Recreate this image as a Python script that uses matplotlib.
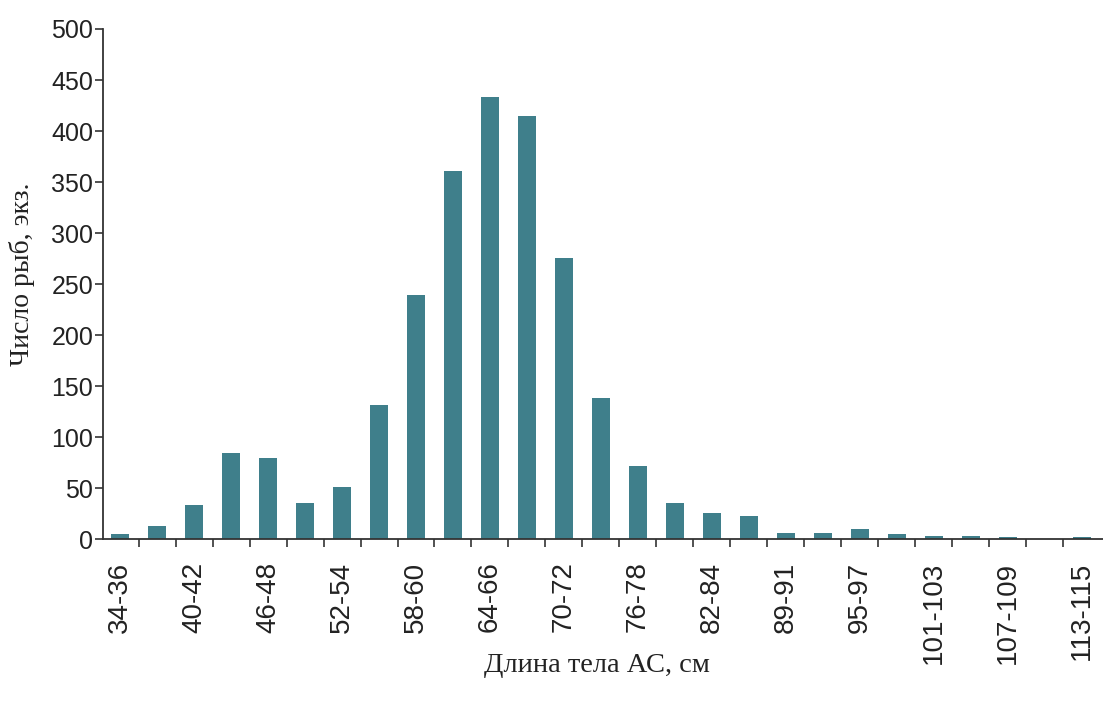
import matplotlib.pyplot as plt
import numpy as np

# Length classes (cm) and fish counts
classes = ['34-36', '37-39', '40-42', '43-45', '46-48', '49-51', '52-54', '55-57',
           '58-60', '61-63', '64-66', '67-69', '70-72', '73-75', '76-78', '79-81',
           '82-84', '85-88', '89-91', '92-94', '95-97', '98-100', '101-103', '104-106',
           '107-109', '110-112', '113-115']
counts = [5, 13, 34, 85, 80, 36, 51, 132, 239, 361, 433, 415, 276, 138, 72, 36,
          26, 23, 6, 6, 10, 5, 3, 3, 2, 0, 2]
yticks = [0, 50, 100, 150, 200, 250, 300, 350, 400, 450, 500]

bar_color = '#3f7f8b'
axis_color = '#333333'

fig = plt.figure(figsize=(11.03, 7.05), dpi=100)
ax = fig.add_axes([0.0934, 0.235, 0.9066, 0.7239])

x = np.arange(len(classes))
ax.bar(x, counts, width=0.5, color=bar_color, zorder=2)

ax.set_xlim(-0.46, len(classes) - 0.43)
ax.set_ylim(0, 500)

# every other class gets a label; small ticks sit between the bars
ax.set_xticks(x[::2])
ax.set_xticklabels(classes[::2], rotation=90, fontsize=20,
                   family='Liberation Sans', color='#222222')
ax.set_xticks(x[:-1] + 0.5, minor=True)
ax.tick_params(axis='x', which='major', length=0, pad=16)
ax.tick_params(axis='x', which='minor', length=6, width=1.2, color=axis_color,
               direction='out')

ax.set_yticks(yticks)
ax.set_yticklabels([str(v) for v in yticks], fontsize=18,
                   family='Liberation Sans', color='#222222')
ax.tick_params(axis='y', length=6, width=1.2, color=axis_color, pad=1)

for side in ['top', 'right']:
    ax.spines[side].set_visible(False)
for side in ['left', 'bottom']:
    ax.spines[side].set_color(axis_color)
    ax.spines[side].set_linewidth(1.3)

fig.text(0.541, 0.056, 'Длина тела АС, см', ha='center', va='center',
         fontsize=20.5, family='Liberation Serif', color='#222222')
fig.text(0.02, 0.611, 'Число рыб, экз.', ha='center', va='center',
         rotation=90, fontsize=20, family='Liberation Serif', color='#222222')

fig.savefig('out.png', dpi=100, facecolor='white')
